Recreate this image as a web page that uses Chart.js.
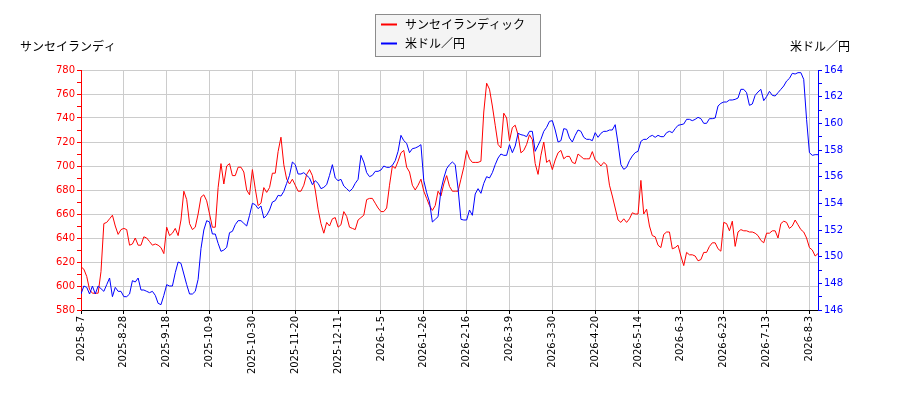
<!DOCTYPE html>
<html>
<head>
<meta charset="utf-8">
<script src="https://cdn.jsdelivr.net/npm/chart.js@4/dist/chart.umd.min.js"></script>
<style>
  html, body { margin: 0; padding: 0; background: #fff; }
  #chart { display: block; }
</style>
</head>
<body>
<canvas id="chart" width="900" height="400"></canvas>
<script>
// Series names / axis titles
const stockName = 'サンセイランディック';
const fxName = '米ドル／円';
const leftTitle = 'サンセイランディ';
const rightTitle = '米ドル／円';

// Date labels, one every 15 trading days (index 0, 15, 30 ...)
const tickLabels = ['2025-8-7', '2025-8-28', '2025-9-18', '2025-10-9', '2025-10-30', '2025-11-20',
  '2025-12-11', '2026-1-5', '2026-1-26', '2026-2-16', '2026-3-9', '2026-3-30',
  '2026-4-20', '2026-5-14', '2026-6-3', '2026-6-23', '2026-7-13', '2026-8-3'];
const tickStep = 15;

// Daily close, サンセイランディック (yen)
const stockPrice = [
  616, 614, 608, 597, 594, 594, 594, 612, 652, 653,
  656, 659, 650, 643, 647, 648, 647, 634, 635, 640,
  634, 634, 641, 640, 637, 634, 635, 634, 632, 627,
  649, 642, 644, 648, 642, 655, 679, 672, 652, 647,
  649, 660, 674, 676, 671, 660, 649, 649, 682, 702,
  685, 700, 702, 692, 692, 699, 699, 695, 680, 676,
  697, 681, 667, 669, 682, 678, 682, 694, 694, 712,
  724, 701, 689, 685, 689, 684, 679, 679, 684, 693,
  697, 692, 680, 664, 652, 644, 653, 650, 656, 657,
  649, 651, 662, 658, 649, 648, 647, 655, 657, 659,
  672, 673, 673, 669, 665, 662, 662, 665, 684, 700,
  698, 704, 711, 713, 699, 695, 684, 680, 684, 689,
  679, 673, 667, 663, 667, 679, 675, 685, 692, 683,
  679, 679, 679, 689, 699, 713, 706, 703, 703, 703,
  704, 745, 769, 764, 750, 734, 718, 715, 744, 740,
  721, 732, 734, 726, 711, 713, 718, 726, 722, 702,
  693, 709, 720, 703, 705, 697, 705, 711, 713, 706,
  708, 708, 703, 702, 710, 708, 706, 706, 706, 712,
  705, 703, 700, 703, 701, 684, 675, 665, 655, 653,
  656, 653, 656, 661, 660, 660, 688, 660, 664, 650,
  642, 641, 634, 632, 643, 645, 645, 631, 632, 634,
  625, 617, 628, 626, 626, 625, 621, 622, 628, 628,
  633, 636, 636, 631, 629, 653, 652, 646, 654, 633,
  645, 647, 646, 646, 645, 645, 644, 642, 638, 636,
  644, 644, 646, 646, 640, 652, 654, 653, 648, 650,
  655, 651, 647, 645, 640, 632, 630, 625, 627
];

// Daily USD/JPY
const usdJpy = [
  147.2, 147.8, 147.7, 147.2, 147.8, 147.2, 147.8, 147.6, 147.4, 147.9,
  148.4, 147.0, 147.7, 147.4, 147.4, 147.0, 147.0, 147.2, 148.2, 148.1,
  148.4, 147.5, 147.5, 147.4, 147.3, 147.4, 147.1, 146.5, 146.4, 147.1,
  147.9, 147.8, 147.8, 148.8, 149.6, 149.5, 148.7, 147.9, 147.2, 147.2,
  147.4, 148.3, 150.6, 152.0, 152.7, 152.6, 151.7, 151.7, 151.0, 150.4,
  150.5, 150.7, 151.8, 151.9, 152.4, 152.7, 152.7, 152.5, 152.3, 153.1,
  154.0, 153.9, 153.6, 153.8, 152.9, 153.1, 153.5, 154.1, 154.2, 154.6,
  154.55, 154.9, 155.5, 156.1, 157.1, 156.9, 156.2, 156.2, 156.3, 156.1,
  155.9, 155.4, 155.7, 155.5, 155.1, 155.2, 155.4, 156.1, 156.9, 155.9,
  155.7, 155.8, 155.3, 155.1, 154.9, 155.1, 155.5, 155.8, 157.6, 157.1,
  156.3, 156.0, 156.1, 156.4, 156.4, 156.5, 156.8, 156.7, 156.7, 156.85,
  157.2, 157.9, 159.1, 158.7, 158.5, 157.8, 158.1, 158.15, 158.25, 158.4,
  155.7, 154.8, 154.1, 152.6, 152.8, 153.0, 155.0, 155.9, 156.6, 156.9,
  157.1, 156.9, 155.1, 152.8, 152.75, 152.75, 153.5, 153.1, 154.7, 155.1,
  154.75, 155.5, 156.0, 155.9, 156.3, 156.9, 157.4, 157.7, 157.6, 157.6,
  158.4, 157.8, 158.3, 159.25, 159.15, 159.1, 159.0, 159.4, 159.4, 157.9,
  158.35, 158.8, 159.4, 159.7, 160.15, 160.2, 159.5, 158.6, 158.7, 159.6,
  159.55, 158.9, 158.6, 159.1, 159.5, 159.4, 158.95, 158.8, 158.8, 158.7,
  159.3, 158.95, 159.25, 159.4, 159.4, 159.5, 159.5, 159.9, 158.5, 156.9,
  156.55, 156.7, 157.2, 157.55, 157.8, 157.9, 158.65, 158.8, 158.8, 159.0,
  159.1, 158.95, 159.1, 159.0, 159.0, 159.3, 159.4, 159.3, 159.6, 159.85,
  159.9, 159.95, 160.3, 160.3, 160.2, 160.3, 160.45, 160.35, 160.0, 160.0,
  160.35, 160.35, 160.4, 161.3, 161.5, 161.6, 161.6, 161.75, 161.75, 161.8,
  161.9, 162.55, 162.55, 162.3, 161.35, 161.45, 162.1, 162.35, 162.55, 161.7,
  162.0, 162.4, 162.1, 162.05, 162.3, 162.55, 162.8, 163.17, 163.37, 163.75,
  163.7, 163.8, 163.8, 163.3, 160.3, 157.8, 157.6, 157.65, 157.65
];

// Axis ranges
const leftMin = 580, leftMax = 780;
const rightMin = 146, rightMax = 164;

const jpFont = '"Noto Sans CJK JP", "Noto Sans CJK SC", sans-serif';
const lastIndex = stockPrice.length - 1;

// Titles over both y axes plus the boxed legend at the top
const overlay = {
  id: 'overlay',
  afterDraw(chart) {
    const c = chart.ctx;
    c.save();
    c.font = '12px ' + jpFont;
    c.fillStyle = '#000';
    c.textBaseline = 'middle';
    c.textAlign = 'left';
    c.fillText(leftTitle, 20, 46);
    c.textAlign = 'right';
    c.fillText(rightTitle, 850, 46);

    // legend
    c.fillStyle = '#f4f4f4';
    c.strokeStyle = '#8c8c8c';
    c.lineWidth = 1;
    c.fillRect(375.5, 14.5, 165, 42);
    c.strokeRect(375.5, 14.5, 165, 42);
    const items = [[stockName, 'red', 24.5], [fxName, 'blue', 43.5]];
    items.forEach(([name, col, y]) => {
      c.strokeStyle = col;
      c.lineWidth = 2;
      c.beginPath();
      c.moveTo(381, y);
      c.lineTo(397, y);
      c.stroke();
      c.fillStyle = '#000';
      c.textAlign = 'left';
      c.fillText(name, 405, y);
    });
    c.restore();
  }
};

const ctx = document.getElementById('chart').getContext('2d');
new Chart(ctx, {
  type: 'line',
  data: {
    datasets: [
      {
        label: stockName,
        data: stockPrice.map((v, i) => ({ x: i, y: v })),
        borderColor: 'red',
        borderWidth: 1,
        pointRadius: 0,
        tension: 0,
        yAxisID: 'y',
        order: 2
      },
      {
        label: fxName,
        data: usdJpy.map((v, i) => ({ x: i, y: v })),
        borderColor: 'blue',
        borderWidth: 1,
        pointRadius: 0,
        tension: 0,
        yAxisID: 'y1',
        order: 1
      }
    ]
  },
  options: {
    responsive: false,
    animation: false,
    devicePixelRatio: 1,
    layout: { padding: { top: 70, left: 0, right: 0, bottom: 0 } },
    plugins: { legend: { display: false }, tooltip: { enabled: false } },
    scales: {
      x: {
        type: 'linear',
        min: 0,
        max: lastIndex,
        afterBuildTicks: s => { s.ticks = tickLabels.map((_, k) => ({ value: k * tickStep })); },
        afterFit: s => { s.height = 90; },
        ticks: {
          autoSkip: false,
          minRotation: 90,
          maxRotation: 90,
          padding: 2,
          color: '#000',
          font: { family: 'DejaVu Sans', size: 10 },
          callback: v => tickLabels[v / tickStep]
        },
        grid: { color: '#cccccc', tickColor: '#000', tickLength: 4 },
        border: { color: '#000' }
      },
      y: {
        position: 'left',
        min: leftMin,
        max: leftMax,
        afterFit: s => { s.width = 81; },
        ticks: {
          stepSize: 10,
          autoSkip: false,
          padding: 2,
          color: 'red',
          font: { family: 'DejaVu Sans', size: 10 },
          callback: v => (v % 20 === 0 ? v : '')
        },
        grid: {
          color: c => (c.tick && c.tick.value % 20 === 0 ? '#cccccc' : 'rgba(0,0,0,0)'),
          tickColor: 'red',
          tickLength: 4
        },
        border: { color: 'red' }
      },
      y1: {
        position: 'right',
        min: rightMin,
        max: rightMax,
        afterFit: s => { s.width = 82; },
        ticks: {
          stepSize: 1,
          autoSkip: false,
          padding: 2,
          color: 'blue',
          font: { family: 'DejaVu Sans', size: 10 },
          callback: v => (v % 2 === 0 ? v : '')
        },
        grid: { drawOnChartArea: false, tickColor: 'blue', tickLength: 4 },
        border: { color: 'blue' }
      }
    }
  },
  plugins: [overlay]
});
</script>
</body>
</html>
